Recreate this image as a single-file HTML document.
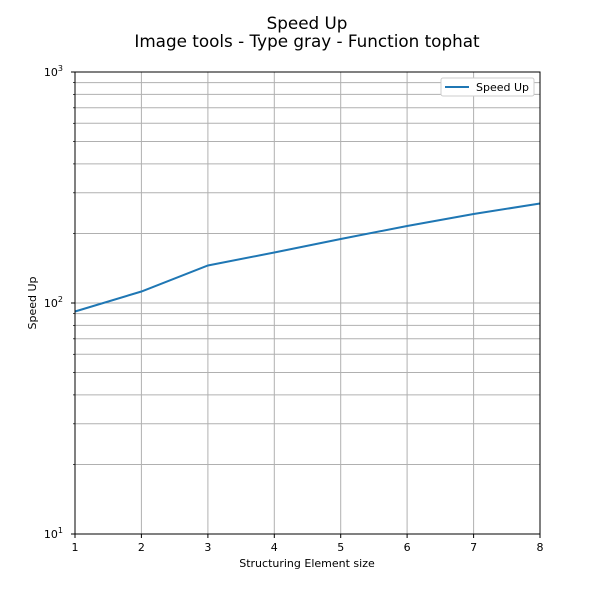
<!DOCTYPE html>
<html><head><style>body{margin:0;background:#fff}svg{display:block}</style></head><body>
<svg width="600" height="600" viewBox="0 0 600 600" xmlns="http://www.w3.org/2000/svg" font-family="DejaVu Sans, Liberation Sans, sans-serif">
<rect width="600" height="600" fill="#fff"/>
<text x="307" y="29" font-size="16.8" text-anchor="middle">Speed Up</text>
<text x="307" y="47" font-size="16.8" text-anchor="middle">Image tools - Type gray - Function tophat</text>
<g stroke="#b0b0b0" stroke-width="1">
<line x1="75" x2="540" y1="464.5" y2="464.5"/><line x1="75" x2="540" y1="423.8" y2="423.8"/><line x1="75" x2="540" y1="394.9" y2="394.9"/><line x1="75" x2="540" y1="372.5" y2="372.5"/><line x1="75" x2="540" y1="354.3" y2="354.3"/><line x1="75" x2="540" y1="338.8" y2="338.8"/><line x1="75" x2="540" y1="325.4" y2="325.4"/><line x1="75" x2="540" y1="313.6" y2="313.6"/><line x1="75" x2="540" y1="303" y2="303"/>
<line x1="75" x2="540" y1="233.5" y2="233.5"/><line x1="75" x2="540" y1="192.8" y2="192.8"/><line x1="75" x2="540" y1="163.9" y2="163.9"/><line x1="75" x2="540" y1="141.5" y2="141.5"/><line x1="75" x2="540" y1="123.3" y2="123.3"/><line x1="75" x2="540" y1="107.8" y2="107.8"/><line x1="75" x2="540" y1="94.4" y2="94.4"/><line x1="75" x2="540" y1="82.6" y2="82.6"/>
<line x1="141.4" x2="141.4" y1="72" y2="534"/><line x1="207.9" x2="207.9" y1="72" y2="534"/><line x1="274.3" x2="274.3" y1="72" y2="534"/><line x1="340.7" x2="340.7" y1="72" y2="534"/><line x1="407.1" x2="407.1" y1="72" y2="534"/><line x1="473.6" x2="473.6" y1="72" y2="534"/>
</g>
<polyline fill="none" stroke="#1f77b4" stroke-width="2" points="75,311.5 141.4,291.5 207.9,265.5 274.3,252.5 340.7,239 407.1,226 473.6,214 540,203.5"/>
<rect x="75" y="72" width="465" height="462" fill="none" stroke="#000" stroke-width="1"/>
<g stroke="#000" stroke-width="1">
<line x1="75" x2="75" y1="534" y2="538"/><line x1="141.4" x2="141.4" y1="534" y2="538"/><line x1="207.9" x2="207.9" y1="534" y2="538"/><line x1="274.3" x2="274.3" y1="534" y2="538"/><line x1="340.7" x2="340.7" y1="534" y2="538"/><line x1="407.1" x2="407.1" y1="534" y2="538"/><line x1="473.6" x2="473.6" y1="534" y2="538"/><line x1="540" x2="540" y1="534" y2="538"/>
<line x1="71" x2="75" y1="534" y2="534"/><line x1="71" x2="75" y1="303" y2="303"/><line x1="71" x2="75" y1="72" y2="72"/>
</g>
<g stroke="#000" stroke-width="0.7">
<line x1="73" x2="75" y1="464.5" y2="464.5"/><line x1="73" x2="75" y1="423.8" y2="423.8"/><line x1="73" x2="75" y1="394.9" y2="394.9"/><line x1="73" x2="75" y1="372.5" y2="372.5"/><line x1="73" x2="75" y1="354.3" y2="354.3"/><line x1="73" x2="75" y1="338.8" y2="338.8"/><line x1="73" x2="75" y1="325.4" y2="325.4"/><line x1="73" x2="75" y1="313.6" y2="313.6"/>
<line x1="73" x2="75" y1="233.5" y2="233.5"/><line x1="73" x2="75" y1="192.8" y2="192.8"/><line x1="73" x2="75" y1="163.9" y2="163.9"/><line x1="73" x2="75" y1="141.5" y2="141.5"/><line x1="73" x2="75" y1="123.3" y2="123.3"/><line x1="73" x2="75" y1="107.8" y2="107.8"/><line x1="73" x2="75" y1="94.4" y2="94.4"/><line x1="73" x2="75" y1="82.6" y2="82.6"/>
</g>
<g font-size="11" text-anchor="middle">
<text x="75" y="551">1</text><text x="141.4" y="551">2</text><text x="207.9" y="551">3</text><text x="274.3" y="551">4</text><text x="340.7" y="551">5</text><text x="407.1" y="551">6</text><text x="473.6" y="551">7</text><text x="540" y="551">8</text>
<text x="307" y="567">Structuring Element size</text>
</g>
<g font-size="11" text-anchor="end">
<text x="63" y="538">10<tspan font-size="8" dy="-5">1</tspan></text>
<text x="63" y="307">10<tspan font-size="8" dy="-5">2</tspan></text>
<text x="63" y="76">10<tspan font-size="8" dy="-5">3</tspan></text>
</g>
<text font-size="11" text-anchor="middle" transform="translate(36,303) rotate(-90)">Speed Up</text>
<rect x="441" y="78" width="93" height="18" fill="#fff" stroke="#ccc" rx="2"/>
<line x1="445" x2="469" y1="87" y2="87" stroke="#1f77b4" stroke-width="2"/>
<text x="476" y="91" font-size="11">Speed Up</text>
</svg>
</body></html>
